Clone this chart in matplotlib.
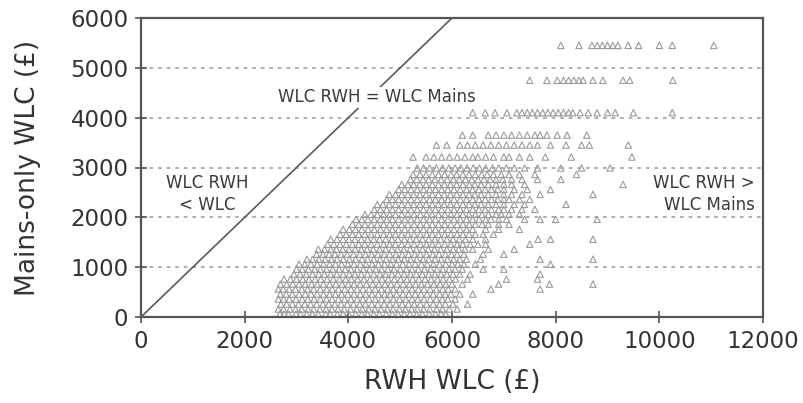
import matplotlib
matplotlib.use("Agg")
import matplotlib.pyplot as plt

plt.rcParams['font.family'] = ['DejaVu Sans']

# Mains-only whole-life cost levels (GBP) and the RWH whole-life costs found at each level
mains_levels = [60, 160, 260, 360, 460, 560, 660, 760, 860, 960,
                1060, 1160, 1260, 1360, 1460, 1560, 1660, 1760, 1860, 1960,
                2060, 2160, 2260, 2360, 2460, 2560, 2660, 2760, 2860, 2990,
                3210, 3450, 3650, 4100, 4750, 5450]

rwh_rows = [
    [2680, 2760, 2850, 2990, 3080, 3200, 3310, 3420, 3560, 3650, 3790, 3900, 4010, 4140, 4260, 4370, 4490, 4600, 4730, 4850, 4960, 5080, 5190, 5320, 5430, 5560, 5680, 5790, 5880],
    [2650, 2750, 2870, 2980, 3100, 3220, 3330, 3450, 3570, 3680, 3800, 3920, 4040, 4160, 4270, 4390, 4510, 4630, 4750, 4860, 4980, 5100, 5220, 5330, 5450, 5570, 5700, 5810, 5950, 6100],
    [2700, 2810, 2920, 3040, 3160, 3270, 3390, 3510, 3620, 3740, 3860, 3980, 4100, 4220, 4330, 4450, 4570, 4690, 4800, 4920, 5040, 5160, 5270, 5390, 5510, 5640, 5760, 5870, 6020, 6300],
    [2650, 2750, 2860, 2990, 3110, 3220, 3340, 3460, 3580, 3690, 3810, 3930, 4050, 4170, 4280, 4400, 4520, 4640, 4750, 4870, 4990, 5110, 5230, 5340, 5460, 5580, 5700, 5810, 5920, 6060],
    [2690, 2800, 2920, 3050, 3170, 3280, 3400, 3520, 3640, 3750, 3870, 3990, 4110, 4230, 4340, 4460, 4580, 4700, 4810, 4930, 5050, 5170, 5290, 5400, 5520, 5640, 5760, 5870, 5980, 6150, 6400],
    [2650, 2740, 2860, 2980, 3100, 3210, 3330, 3460, 3580, 3690, 3810, 3930, 4050, 4170, 4280, 4400, 4520, 4640, 4760, 4870, 4990, 5110, 5230, 5350, 5460, 5580, 5700, 5820, 5930, 6060, 6750, 7700],
    [2690, 2810, 2930, 3050, 3170, 3290, 3400, 3520, 3640, 3760, 3880, 4000, 4110, 4230, 4350, 4470, 4590, 4710, 4820, 4940, 5060, 5180, 5300, 5410, 5530, 5650, 5770, 5880, 6000, 6200, 6900, 7880, 8720],
    [2760, 2880, 3000, 3120, 3240, 3360, 3470, 3590, 3710, 3830, 3950, 4060, 4180, 4300, 4420, 4540, 4650, 4770, 4890, 5010, 5130, 5240, 5360, 5480, 5600, 5720, 5830, 5950, 6070, 6300, 7050, 7650],
    [2950, 3070, 3190, 3310, 3430, 3540, 3660, 3780, 3900, 4020, 4130, 4250, 4370, 4490, 4610, 4720, 4840, 4960, 5080, 5200, 5310, 5430, 5550, 5670, 5790, 5900, 6020, 6150, 6350, 7700],
    [3000, 3110, 3230, 3350, 3460, 3580, 3700, 3820, 3940, 4050, 4170, 4290, 4410, 4530, 4640, 4760, 4880, 5000, 5120, 5230, 5350, 5470, 5590, 5710, 5820, 5940, 6060, 6200, 6600, 7000],
    [3050, 3160, 3280, 3400, 3520, 3640, 3750, 3870, 3990, 4110, 4230, 4340, 4460, 4580, 4700, 4820, 4930, 5050, 5170, 5290, 5410, 5520, 5640, 5760, 5880, 6000, 6110, 6230, 6450, 7900],
    [3200, 3310, 3430, 3550, 3670, 3780, 3900, 4020, 4140, 4260, 4370, 4490, 4610, 4730, 4850, 4960, 5080, 5200, 5320, 5440, 5550, 5670, 5790, 5910, 6030, 6150, 6280, 6550, 7700, 8720],
    [3390, 3510, 3630, 3740, 3860, 3980, 4100, 4220, 4330, 4450, 4570, 4690, 4800, 4920, 5040, 5160, 5280, 5390, 5510, 5630, 5750, 5870, 5990, 6100, 6230, 6600, 7000],
    [3420, 3540, 3660, 3770, 3890, 4010, 4130, 4250, 4360, 4480, 4600, 4720, 4840, 4950, 5070, 5190, 5310, 5430, 5540, 5660, 5780, 5900, 6020, 6130, 6250, 6400, 6700, 7200],
    [3600, 3720, 3840, 3960, 4080, 4200, 4320, 4440, 4560, 4680, 4800, 4910, 5030, 5150, 5270, 5390, 5510, 5620, 5740, 5860, 5980, 6100, 6210, 6350, 6500, 6650, 7500],
    [3660, 3780, 3900, 4010, 4130, 4250, 4370, 4490, 4600, 4720, 4840, 4960, 5080, 5190, 5310, 5430, 5550, 5670, 5780, 5900, 6020, 6140, 6260, 6400, 6650, 7660, 7900, 8720],
    [3840, 3960, 4080, 4200, 4320, 4440, 4560, 4680, 4800, 4910, 5030, 5150, 5270, 5390, 5510, 5620, 5740, 5860, 5980, 6100, 6210, 6330, 6450, 6600, 6800],
    [3900, 4020, 4140, 4260, 4380, 4500, 4620, 4740, 4850, 4970, 5090, 5210, 5330, 5450, 5570, 5680, 5800, 5920, 6040, 6160, 6280, 6400, 6650, 6900, 7300],
    [4080, 4200, 4320, 4440, 4560, 4680, 4800, 4910, 5030, 5150, 5270, 5390, 5510, 5620, 5740, 5860, 5980, 6100, 6210, 6330, 6450, 6580, 6700, 6900, 7100],
    [4150, 4260, 4380, 4500, 4620, 4740, 4850, 4970, 5090, 5210, 5330, 5450, 5570, 5680, 5800, 5920, 6040, 6160, 6280, 6400, 6520, 6650, 6750, 6900, 7050, 7400, 7700, 8000, 8800],
    [4320, 4440, 4560, 4680, 4800, 4910, 5030, 5150, 5270, 5390, 5510, 5620, 5740, 5860, 5980, 6100, 6210, 6330, 6450, 6580, 6700, 6850, 6950, 7100, 7300],
    [4500, 4620, 4740, 4850, 4970, 5090, 5210, 5330, 5450, 5570, 5680, 5800, 5920, 6040, 6160, 6280, 6400, 6520, 6640, 6760, 6900, 7000, 7150, 7350, 7600],
    [4560, 4670, 4790, 4910, 5030, 5150, 5260, 5380, 5500, 5620, 5740, 5850, 5970, 6090, 6210, 6330, 6440, 6560, 6700, 6850, 7000, 7200, 7400, 8200],
    [4740, 4850, 4970, 5090, 5210, 5330, 5450, 5570, 5680, 5800, 5920, 6040, 6160, 6280, 6400, 6520, 6640, 6760, 6880, 7000, 7100, 7300, 7500],
    [4790, 4910, 5030, 5150, 5260, 5380, 5500, 5620, 5740, 5850, 5970, 6090, 6210, 6330, 6440, 6560, 6700, 6850, 7000, 7150, 7350, 7700, 8720],
    [4970, 5090, 5210, 5330, 5450, 5570, 5680, 5800, 5920, 6040, 6160, 6280, 6400, 6520, 6640, 6760, 6880, 7000, 7200, 7450, 7900],
    [5030, 5150, 5260, 5380, 5500, 5620, 5740, 5850, 5970, 6090, 6210, 6330, 6440, 6560, 6700, 6850, 7000, 7150, 7400, 9300],
    [5200, 5320, 5440, 5550, 5670, 5790, 5910, 6030, 6140, 6260, 6380, 6500, 6620, 6730, 6850, 6980, 7150, 7350, 7650, 8100],
    [5250, 5380, 5500, 5620, 5740, 5860, 5980, 6090, 6210, 6330, 6450, 6570, 6680, 6800, 6950, 7100, 7300, 7600, 8400],
    [5330, 5450, 5570, 5700, 5820, 5940, 6060, 6170, 6290, 6410, 6530, 6650, 6780, 6900, 7050, 7200, 7400, 7650, 8100, 8500, 9050],
    [5250, 5500, 5650, 5800, 5950, 6100, 6250, 6400, 6500, 6650, 6800, 7000, 7100, 7300, 7500, 7800, 8300, 9470],
    [5700, 5900, 6150, 6300, 6450, 6600, 6750, 6900, 7050, 7200, 7350, 7500, 7650, 7900, 8200, 8500, 8650, 9400],
    [6200, 6400, 6700, 6850, 7000, 7150, 7300, 7450, 7600, 7700, 7830, 8030, 8220, 8600],
    [6400, 6640, 6830, 7060, 7250, 7350, 7450, 7550, 7650, 7750, 7850, 7950, 8050, 8150, 8250, 8330, 8470, 8630, 8800, 9000, 9150, 9500, 10250],
    [7500, 7830, 8030, 8150, 8250, 8350, 8450, 8530, 8720, 8910, 9300, 9430, 10260],
    [8100, 8450, 8700, 8800, 8900, 9000, 9100, 9200, 9400, 9600, 10000, 10250, 11050],
]

x_ticks = [0, 2000, 4000, 6000, 8000, 10000, 12000]
y_ticks = [0, 1000, 2000, 3000, 4000, 5000, 6000]

rwh = [v for row in rwh_rows for v in row]
mains = [lvl for lvl, row in zip(mains_levels, rwh_rows) for _ in row]

fig = plt.figure(figsize=(8.04, 4.03), dpi=100)
ax = fig.add_axes([141 / 804, 1 - 317 / 403, (763 - 141) / 804, (317 - 18) / 403])

for yv in y_ticks[1:-1]:
    ax.axhline(yv, color='#999999', lw=1.1, ls=(0, (2.4, 3.2)), zorder=1)

ax.scatter(rwh, mains, marker='^', s=21, facecolors='none',
           edgecolors='#9a9a9a', linewidths=0.8, zorder=2)

# break-even line
ax.plot([0, 6000], [0, 6000], color='#5a5a5a', lw=1.2, zorder=3)

ax.set_xlim(0, 12000)
ax.set_ylim(0, 6000)
ax.set_xticks(x_ticks)
ax.set_yticks(y_ticks)
ax.tick_params(direction='inout', length=8, width=1.2, color='#555555',
               labelsize=16.5, labelcolor='#333333', pad=5)

for side in ['left', 'right', 'top', 'bottom']:
    ax.spines[side].set_color('#555555')
    ax.spines[side].set_linewidth(1.6)

ax.set_xlabel('RWH WLC (£)', fontsize=19, color='#333333')
ax.set_ylabel('Mains-only WLC (£)', fontsize=19, color='#333333')
ax.xaxis.set_label_coords(0.5, -0.175)
ax.yaxis.set_label_coords(-0.16, 0.5)

ax.text(4550, 4410, 'WLC RWH = WLC Mains', fontsize=12, color='#3a3a3a',
        ha='center', va='center', zorder=4,
        bbox=dict(facecolor='white', edgecolor='none', pad=1))
ax.text(1270, 2470, 'WLC RWH\n< WLC', fontsize=12, color='#3a3a3a',
        ha='center', va='center', linespacing=1.25, zorder=4)
ax.text(11850, 2470, 'WLC RWH >\nWLC Mains', fontsize=12, color='#3a3a3a',
        ha='right', va='center', linespacing=1.25, zorder=4)

fig.savefig('out.png', dpi=100)
